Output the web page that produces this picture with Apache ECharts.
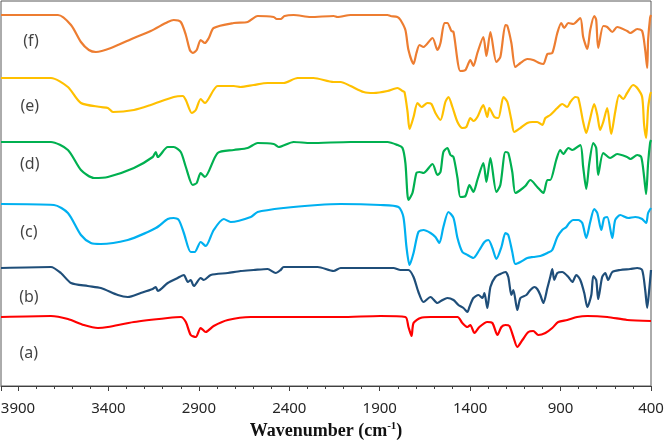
<!DOCTYPE html>
<html>
<head>
<meta charset="utf-8">
<script src="https://cdn.jsdelivr.net/npm/echarts@6/dist/echarts.min.js"></script>
<style>
  html, body { margin: 0; padding: 0; background: #fff; }
  #ftir { width: 664px; height: 445px; }
</style>
</head>
<body>
<div id="ftir"></div>
<script>
// wavenumber (cm-1) and stacked transmittance (a.u., offset per spectrum)
var specF = [[3994,376],[3679,376],[3607,366],[3552,349],[3508,341],[3469,339],[3386,343],[3259,353],[3166,360],[3072,369],[3039,371],[3000,369],[2972,356],[2950,341],[2934,338],[2912,341],[2890,351],[2867,348],[2845,353],[2818,363],[2707,368],[2630,369],[2575,375],[2486,374],[2470,372],[2448,372],[2426,375],[2376,376],[2282,374],[2155,375],[2133,374],[2061,376],[1857,376],[1840,375],[1802,374],[1785,371],[1758,361],[1741,341],[1713,327],[1697,338],[1680,346],[1658,344],[1608,353],[1581,341],[1564,348],[1542,368],[1526,368],[1504,360],[1492,359],[1454,320],[1426,321],[1399,331],[1382,325],[1360,338],[1327,354],[1310,335],[1288,359],[1255,329],[1233,334],[1205,366],[1194,365],[1172,348],[1150,324],[1122,328],[1084,332],[1051,331],[1018,328],[995,327],[973,337],[946,338],[918,358],[896,368],[880,363],[857,368],[830,367],[791,373],[775,354],[752,342],[736,361],[714,375],[703,371],[692,343],[664,365],[642,364],[614,359],[587,364],[532,360],[515,358],[476,362],[449,360],[432,341],[421,323],[416,351],[405,373],[400,376]];

var specE = [[3994,313],[3718,313],[3624,304],[3552,288],[3442,284],[3403,283],[3375,279],[3259,281],[3166,286],[3039,294],[2989,295],[2972,291],[2939,278],[2917,281],[2890,292],[2867,288],[2796,305],[2707,305],[2669,304],[2597,306],[2520,308],[2431,308],[2354,313],[2266,313],[2155,309],[2116,309],[2061,305],[1989,299],[1934,298],[1857,300],[1802,303],[1774,300],[1763,299],[1746,279],[1735,262],[1713,274],[1691,288],[1669,284],[1636,288],[1614,287],[1592,278],[1564,271],[1537,289],[1520,294],[1498,284],[1470,269],[1443,263],[1421,264],[1399,273],[1382,270],[1360,274],[1338,283],[1327,286],[1305,274],[1294,283],[1266,274],[1244,273],[1216,294],[1194,289],[1172,271],[1156,259],[1122,263],[1084,268],[1056,269],[1029,269],[1001,266],[984,273],[957,276],[918,283],[891,287],[863,284],[846,289],[819,294],[802,293],[775,269],[758,258],[741,269],[714,287],[697,276],[681,261],[664,269],[642,283],[620,257],[598,279],[576,296],[554,292],[532,298],[499,306],[476,303],[449,294],[438,266],[427,253],[416,283],[405,296],[400,299]];

var specD = [[3994,249],[3718,249],[3624,241],[3552,221],[3480,213],[3403,214],[3259,223],[3155,234],[3138,239],[3127,234],[3072,244],[3039,244],[3000,239],[2972,224],[2934,206],[2912,208],[2890,218],[2867,214],[2796,238],[2707,241],[2630,243],[2575,248],[2486,247],[2459,244],[2376,249],[2282,248],[2061,249],[1857,249],[1802,246],[1774,243],[1758,228],[1741,191],[1719,198],[1697,218],[1680,219],[1658,218],[1608,227],[1581,216],[1564,219],[1548,239],[1526,243],[1509,236],[1492,234],[1470,213],[1454,194],[1426,195],[1404,206],[1382,199],[1360,211],[1327,228],[1310,209],[1288,233],[1255,199],[1233,206],[1205,239],[1189,238],[1167,219],[1150,198],[1122,201],[1095,205],[1067,211],[1029,204],[995,198],[973,211],[957,211],[924,231],[902,241],[885,237],[857,243],[835,241],[791,246],[775,224],[758,202],[741,228],[719,248],[703,243],[692,216],[664,238],[626,233],[587,237],[532,234],[515,232],[476,236],[454,234],[438,214],[427,197],[416,228],[405,248],[400,251]];

var specC = [[3994,187],[3701,186],[3624,178],[3552,156],[3497,148],[3442,147],[3293,151],[3182,159],[3138,163],[3121,165],[3072,172],[3039,173],[3011,171],[2983,158],[2945,139],[2923,139],[2890,149],[2862,145],[2818,161],[2762,172],[2724,169],[2613,174],[2575,179],[2431,183],[2243,186],[2116,187],[1896,186],[1796,184],[1769,174],[1752,144],[1735,126],[1713,138],[1686,159],[1658,161],[1619,158],[1592,154],[1570,148],[1548,164],[1520,179],[1492,173],[1470,153],[1443,139],[1415,136],[1382,133],[1349,141],[1321,149],[1299,151],[1277,143],[1255,132],[1227,144],[1205,158],[1189,156],[1167,139],[1150,127],[1122,129],[1084,133],[1051,134],[1012,135],[973,138],[946,141],[918,154],[891,161],[868,164],[852,168],[830,171],[802,171],[780,168],[758,153],[736,169],[714,182],[697,178],[675,161],[659,173],[642,174],[614,153],[598,171],[570,176],[526,173],[487,174],[449,172],[427,168],[416,178],[400,183]];

var specB = [[3994,123],[3718,124],[3663,118],[3607,108],[3514,105],[3442,103],[3348,96],[3293,94],[3221,98],[3155,102],[3138,104],[3127,100],[3072,108],[3017,113],[2983,116],[2961,109],[2945,111],[2928,105],[2890,113],[2873,111],[2834,116],[2740,118],[2669,120],[2597,121],[2520,122],[2475,118],[2448,121],[2431,124],[2243,124],[2155,120],[2116,123],[1896,123],[1824,123],[1785,121],[1741,121],[1713,114],[1686,99],[1658,89],[1619,94],[1581,88],[1553,91],[1526,93],[1492,91],[1465,86],[1437,83],[1415,79],[1404,84],[1382,93],[1354,96],[1332,93],[1321,98],[1305,83],[1288,104],[1261,114],[1233,117],[1205,119],[1189,114],[1172,96],[1161,101],[1139,81],[1122,93],[1089,96],[1067,101],[1045,104],[1029,102],[1012,96],[995,88],[973,103],[957,114],[946,122],[935,111],[918,118],[891,119],[857,114],[835,109],[813,116],[791,111],[769,98],[752,84],[730,96],[719,115],[703,111],[692,92],[670,114],[653,118],[637,111],[614,119],[570,121],[515,122],[476,123],[449,121],[432,101],[421,83],[410,101],[400,121]];

var specA = [[3994,74],[3718,75],[3624,72],[3536,66],[3458,63],[3403,64],[3259,69],[3072,73],[3000,74],[2972,69],[2945,56],[2917,54],[2890,63],[2862,59],[2818,65],[2740,71],[2613,74],[2431,74],[2116,74],[1896,75],[1758,74],[1741,64],[1724,55],[1713,68],[1675,73],[1619,74],[1470,74],[1443,68],[1415,64],[1399,66],[1376,58],[1349,64],[1305,69],[1277,68],[1249,56],[1227,64],[1205,66],[1183,65],[1161,54],[1139,44],[1111,51],[1078,59],[1051,60],[1023,56],[984,58],[946,63],[913,69],[863,71],[808,74],[752,75],[642,74],[532,71],[400,70]];

var spectra = [specA, specB, specC, specD, specE, specF];
var spectraNames = ['(a)', '(b)', '(c)', '(d)', '(e)', '(f)'];
var spectraColors = ['#FF0000', '#1F4E79', '#00B0F0', '#00B050', '#FFC000', '#ED7D31'];

// curve tags, placed in data units
var tagX = [3840, 3840, 3840, 3835, 3835, 3828];
var tagY = [38, 94, 159, 227, 285, 350];

var series = spectra.map(function (d, i) {
    return {
        name: spectraNames[i],
        type: 'line',
        data: d,
        showSymbol: false,
        smooth: 0.25,
        lineStyle: { width: 2.2, color: spectraColors[i] },
        itemStyle: { color: spectraColors[i] },
        z: 2 + i
    };
});

series.push({
    type: 'scatter',
    symbolSize: 0,
    data: tagX.map(function (x, i) { return { value: [x, tagY[i]], name: spectraNames[i] }; }),
    label: {
        show: true,
        position: 'inside',
        formatter: '{b}',
        fontFamily: 'Noto Sans',
        fontSize: 16,
        color: '#111'
    },
    z: 10
});

var chart = echarts.init(document.getElementById('ftir'));
var option = {
    animation: false,
    grid: {
        left: 1,
        right: 13,
        top: 1,
        bottom: 59,
        containLabel: false,
        outerBoundsMode: 'none',
        show: true,
        borderColor: '#595959',
        borderWidth: 1
    },
    xAxis: {
        type: 'value',
        inverse: true,
        min: 400,
        max: 3994,
        interval: 500,
        name: 'Wavenumber (cm{sup|-1})',
        nameLocation: 'middle',
        nameGap: 34,
        nameTextStyle: {
            fontFamily: 'Liberation Serif',
            fontWeight: 'bold',
            fontSize: 18,
            color: '#111',
            rich: {
                sup: {
                    fontFamily: 'Liberation Serif',
                    fontWeight: 'bold',
                    fontSize: 11,
                    verticalAlign: 'top',
                    padding: [0, 0, 9, 0],
                    color: '#111'
                }
            }
        },
        axisLine: { lineStyle: { color: '#404040', width: 1 } },
        axisTick: { show: true, length: 5, lineStyle: { color: '#404040' } },
        minorTick: { show: true, splitNumber: 5, length: 3, lineStyle: { color: '#404040' } },
        splitLine: { show: false },
        axisLabel: {
            showMaxLabel: false,
            margin: 15,
            fontFamily: 'Noto Sans',
            fontSize: 15,
            color: '#262626',
            formatter: function (v) { return String(v); }
        }
    },
    yAxis: {
        type: 'value',
        min: 5,
        max: 390,
        show: false
    },
    series: series
};
chart.setOption(option);
</script>
</body>
</html>
